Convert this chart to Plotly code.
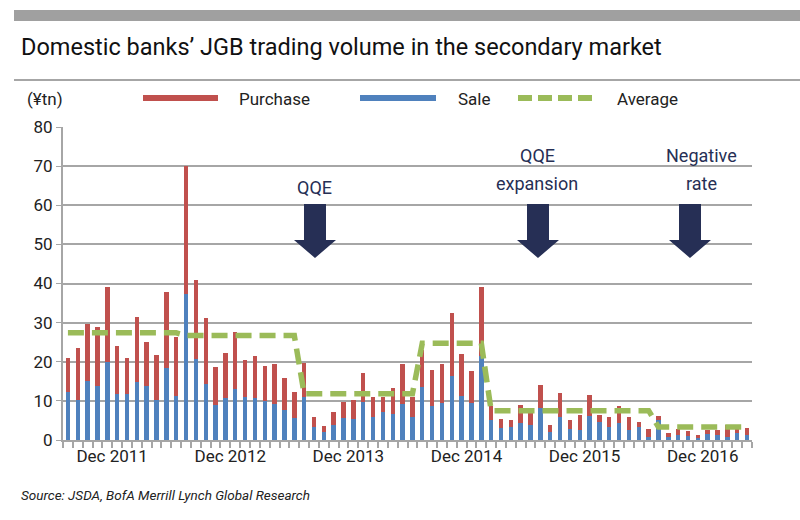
import plotly.graph_objects as go
import pandas as pd

# ---- data (¥tn), monthly, Jul 2011 - Apr 2017 ----
months = list(pd.date_range("2011-07-01", periods=70, freq="MS").strftime("%b %Y"))

total = [21.0, 23.4, 29.7, 28.9, 39.2, 24.1, 21.0, 31.4, 25.1, 21.6, 37.8, 26.2,
         70.1, 40.9, 31.2, 18.6, 22.2, 27.7, 20.5, 21.4, 19.0, 19.3, 15.8, 12.2,
         19.6, 5.8, 3.6, 7.2, 9.6, 10.3, 17.0, 10.9, 11.1, 13.2, 19.5, 11.1,
         23.0, 17.9, 19.4, 32.4, 22.0, 17.7, 39.2, 8.8, 5.4, 5.2, 9.0, 8.0,
         14.1, 3.9, 12.0, 5.0, 6.5, 11.5, 6.5, 6.0, 8.8, 6.0, 4.6, 2.8,
         6.1, 1.9, 2.8, 2.4, 1.4, 2.6, 2.6, 3.8, 2.8, 3.1]
sale = [12.2, 10.2, 15.2, 13.7, 20.0, 11.8, 11.7, 14.7, 13.7, 10.2, 18.4, 11.3,
        37.3, 20.7, 14.3, 9.0, 10.8, 13.1, 11.1, 10.7, 10.0, 9.1, 7.7, 5.6,
        11.1, 3.2, 2.0, 3.9, 5.6, 5.4, 9.8, 6.0, 7.2, 6.6, 9.2, 5.9,
        13.5, 8.6, 9.4, 16.4, 11.3, 9.4, 21.4, 5.1, 3.1, 3.2, 4.4, 3.9,
        8.3, 2.1, 5.9, 2.8, 2.6, 6.1, 4.5, 3.2, 4.3, 2.6, 3.2, 0.8,
        5.1, 0.7, 1.3, 1.1, 0.4, 1.5, 1.3, 0.8, 1.7, 1.4]
purchase = [round(t - s, 1) for t, s in zip(total, sale)]
average = [27.4] * 12 + [26.7] * 12 + [11.8] * 12 + [24.7] * 7 + [7.5] * 17 + [3.3] * 10

y_ticks = [0, 10, 20, 30, 40, 50, 60, 70, 80]
x_labels = [m if m.startswith("Dec") else "" for m in months]

RED = "#C0504D"
BLUE = "#4F81BD"
GREEN = "#9BBB59"
NAVY = "#262F55"
GRID = "#A6A6A6"
FONT = "Roboto, Liberation Sans, sans-serif"

W, H = 800, 520
L, R, T, B = 63, 48, 127, 80
PW, PH = W - L - R, H - T - B


def px(x):
    return (x - L) / PW


def py(y):
    return (H - B - y) / PH


fig = go.Figure()
fig.add_bar(x=months, y=sale, name="Sale", marker=dict(color=BLUE, line=dict(width=0)))
fig.add_bar(x=months, y=purchase, name="Purchase", marker=dict(color=RED, line=dict(width=0)))
fig.add_scatter(x=months, y=average, name="Average", mode="lines",
                line=dict(color=GREEN, width=5.5, dash="16px,8px"))

shapes = []
ann = []

# top grey band and separator
shapes.append(dict(type="rect", xref="paper", yref="paper", x0=px(14), x1=px(800),
                   y0=py(21), y1=py(10), fillcolor="#A0A0A0", line=dict(width=0), layer="below"))
shapes.append(dict(type="line", xref="paper", yref="paper", x0=px(14), x1=px(800),
                   y0=py(80), y1=py(80), line=dict(color="#A6A6A6", width=2)))

# legend
shapes.append(dict(type="line", xref="paper", yref="paper", x0=px(143), x1=px(218),
                   y0=py(98), y1=py(98), line=dict(color=RED, width=6)))
shapes.append(dict(type="line", xref="paper", yref="paper", x0=px(360), x1=px(436),
                   y0=py(98), y1=py(98), line=dict(color=BLUE, width=6)))
shapes.append(dict(type="line", xref="paper", yref="paper", x0=px(518), x1=px(597),
                   y0=py(98), y1=py(98), line=dict(color=GREEN, width=6, dash="14px,6px")))
for txt, x in [("(¥tn)", 25), ("Purchase", 237), ("Sale", 456), ("Average", 615)]:
    ann.append(dict(text=txt, xref="paper", yref="paper", x=px(x), y=py(99),
                    xanchor="left", yanchor="middle", showarrow=False,
                    font=dict(size=17, color="#222222", family=FONT)))


# block arrows
def arrow(cx):
    pts = [(cx - 11, 204), (cx + 11, 204), (cx + 11, 240), (cx + 21, 240), (cx, 258),
           (cx - 21, 240), (cx - 11, 240)]
    path = "M " + " L ".join(f"{px(a):.5f},{py(b):.5f}" for a, b in pts) + " Z"
    return dict(type="path", xref="paper", yref="paper", path=path,
                fillcolor=NAVY, line=dict(width=0))


shapes += [arrow(315), arrow(538), arrow(690)]
for txt, x, y in [("QQE", 314, 187), ("QQE", 537, 155), ("expansion", 537, 183),
                  ("Negative", 701, 155), ("rate", 701, 183)]:
    ann.append(dict(text=txt, xref="paper", yref="paper", x=px(x), y=py(y),
                    xanchor="center", yanchor="middle", showarrow=False,
                    font=dict(size=18, color=NAVY, family=FONT)))

# title and source
ann.append(dict(text="Domestic banks’ JGB trading volume in the secondary market",
                xref="paper", yref="paper", x=px(19), y=py(47), xanchor="left", yanchor="middle",
                showarrow=False, font=dict(size=23.5, color="#111111", family=FONT)))
ann.append(dict(text="<i>Source: JSDA, BofA Merrill Lynch Global Research</i>",
                xref="paper", yref="paper", x=px(19), y=py(495), xanchor="left", yanchor="middle",
                showarrow=False, font=dict(size=13.5, color="#222222", family=FONT)))

fig.update_layout(
    width=W, height=H, barmode="stack", bargap=0.55, showlegend=False,
    margin=dict(l=L, r=R, t=T, b=B), paper_bgcolor="white", plot_bgcolor="white",
    font=dict(family=FONT, color="#222222"),
    shapes=shapes, annotations=ann,
    xaxis=dict(type="category", tickmode="array", tickvals=months, ticktext=x_labels,
               tickson="boundaries", ticks="outside", ticklen=6, tickcolor=GRID, tickwidth=1.5,
               showline=True, linecolor=GRID, linewidth=2, showgrid=False,
               tickfont=dict(size=17, color="#222222"), ticklabelshift=-5, tickangle=0,
               range=[-0.5, len(months) - 0.5]),
    yaxis=dict(range=[0, 80], tickvals=y_ticks, showgrid=True, gridcolor=GRID, gridwidth=2,
               zeroline=False, showline=True, linecolor=GRID, linewidth=2,
               ticks="outside", ticklen=5, tickcolor=GRID,
               tickfont=dict(size=17, color="#222222")),
)

fig.write_html("out.html")
